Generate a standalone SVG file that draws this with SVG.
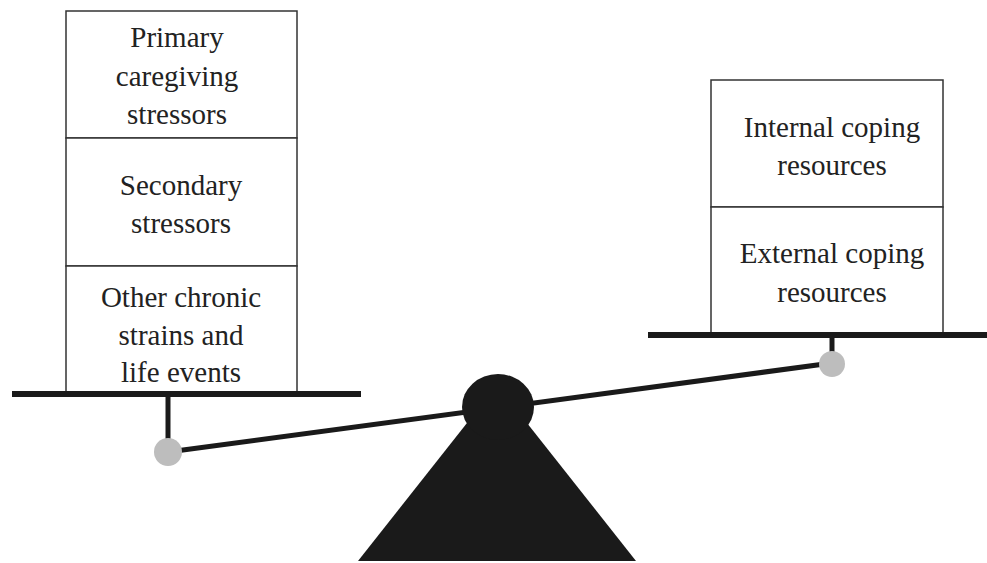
<svg xmlns="http://www.w3.org/2000/svg" width="987" height="563" viewBox="0 0 987 563">
<style>
.box{fill:#fff;stroke:#333;stroke-width:1.5}
.t{font-family:"Liberation Serif","Times New Roman",serif;font-size:29px;fill:#222;text-anchor:middle}
.bar{stroke:#1a1a1a;stroke-width:6;fill:none}
.stem{stroke:#1a1a1a;stroke-width:5;fill:none}
.knob{fill:#bdbdbd}
</style>
<rect width="987" height="563" fill="#fff"/>
<g id="connectors">
<line class="stem" x1="168" y1="394" x2="168" y2="452"/>
<line class="stem" x1="832" y1="335" x2="832" y2="363"/>
<line class="stem" x1="168" y1="452" x2="832" y2="363"/>
</g>
<g id="fulcrum">
<polygon points="358,561 636,561 497,385" fill="#1a1a1a"/>
<ellipse cx="498" cy="407" rx="36" ry="33" fill="#1a1a1a"/>
</g>
<g id="knob-left"><circle class="knob" cx="168" cy="452" r="14"/></g>
<g id="knob-right"><circle class="knob" cx="832" cy="364" r="13"/></g>
<g id="primary">
<rect class="box" x="66" y="11" width="231" height="127"/>
<text class="t" x="177" y="47">Primary</text>
<text class="t" x="177" y="86">caregiving</text>
<text class="t" x="177" y="124">stressors</text>
</g>
<g id="secondary">
<rect class="box" x="66" y="138" width="231" height="128"/>
<text class="t" x="181" y="195">Secondary</text>
<text class="t" x="181" y="233">stressors</text>
</g>
<g id="other">
<rect class="box" x="66" y="266" width="231" height="127"/>
<text class="t" x="181" y="307">Other chronic</text>
<text class="t" x="181" y="345">strains and</text>
<text class="t" x="181" y="382">life events</text>
</g>
<g id="internal">
<rect class="box" x="711" y="80" width="232" height="127"/>
<text class="t" x="832" y="137">Internal coping</text>
<text class="t" x="832" y="175">resources</text>
</g>
<g id="external">
<rect class="box" x="711" y="207" width="232" height="128"/>
<text class="t" x="832" y="263">External coping</text>
<text class="t" x="832" y="302">resources</text>
</g>
<g id="platforms">
<line class="bar" x1="12" y1="394" x2="361" y2="394"/>
<line class="bar" x1="648" y1="335" x2="987" y2="335"/>
</g>
</svg>
